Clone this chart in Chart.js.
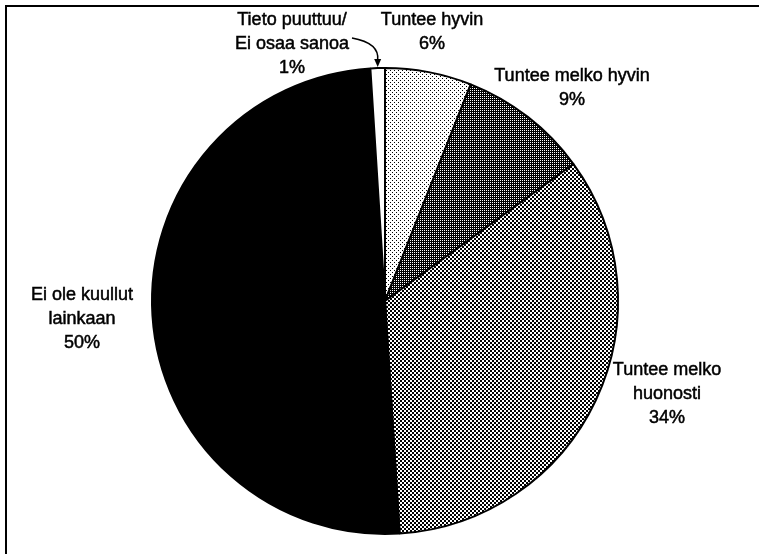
<!DOCTYPE html>
<html>
<head>
<meta charset="utf-8">
<script src="https://cdn.jsdelivr.net/npm/chart.js@4/dist/chart.umd.min.js"></script>
<style>
    html, body { margin: 0; padding: 0; background: #fff; }
    #wrap { position: relative; width: 759px; height: 554px; overflow: hidden; }
    #frame {
        position: absolute; left: 5px; top: 5px; width: 800px; height: 600px;
        border-top: 2px solid #000; border-left: 2px solid #000;
    }
    canvas { position: absolute; left: 0; top: 0; }
</style>
</head>
<body>
<div id="wrap">
    <div id="frame"></div>
    <canvas id="pie" width="759" height="554"></canvas>
</div>
<script>
/* ============================
   Data
   ============================ */
const categories = [
    ['Tuntee hyvin'],
    ['Tuntee melko hyvin'],
    ['Tuntee melko', 'huonosti'],
    ['Ei ole kuullut', 'lainkaan'],
    ['Tieto puuttuu/', 'Ei osaa sanoa']
];
const shares = [6, 9, 34, 50, 1];

// label anchors (center x, first line y) — layout only
const labelPos = [
    [432, 20],
    [572, 76],
    [667, 370],
    [82, 295],
    [292, 20]
];

/* ============================
   Halftone fills
   ============================ */
function tile(size, bg, fg, dots) {
    const c = document.createElement('canvas');
    c.width = size; c.height = size;
    const g = c.getContext('2d');
    g.fillStyle = bg;
    g.fillRect(0, 0, size, size);
    g.fillStyle = fg;
    dots.forEach(([x, y, w, h]) => g.fillRect(x, y, w || 1, h || 1));
    return g.createPattern(c, 'repeat');
}

const ctx = document.getElementById('pie').getContext('2d');
const fills = [
    tile(4, '#fff', '#000', [[0, 0], [2, 2]]),              // light dots
    tile(2, '#000', '#fff', [[0, 0]]),                      // dark
    tile(4, '#fff', '#000', [[0, 0, 2, 2], [2, 2, 2, 2]]),  // checker
    '#000',
    '#fff'
];

/* ============================
   Plugins
   ============================ */
const labelPlugin = {
    id: 'pieLabels',
    afterDraw(chart) {
        const c = chart.ctx;
        const meta = chart.getDatasetMeta(0);
        c.save();
        c.fillStyle = '#000';
        c.strokeStyle = '#000';
        c.lineWidth = 0.5;
        c.font = '18px "Liberation Sans", Arial, sans-serif';
        c.textAlign = 'center';
        c.textBaseline = 'middle';
        categories.forEach((lines, i) => {
            const [x, y] = labelPos[i];
            lines.concat([shares[i] + '%']).forEach((t, k) => {
                c.fillText(t, x, y + k * 24);
                c.strokeText(t, x, y + k * 24);
            });
        });

        // arrow to the smallest slice
        const arc = meta.data[4];
        const mid = (arc.startAngle + arc.endAngle) / 2;
        const tx = arc.x + Math.cos(mid) * arc.outerRadius;
        const ty = arc.y + Math.sin(mid) * arc.outerRadius - 1;
        c.lineWidth = 1.5;
        c.beginPath();
        c.moveTo(352, 38);
        c.quadraticCurveTo(tx + 2, 43, tx, ty - 7);
        c.stroke();
        c.beginPath();
        c.moveTo(tx - 3.5, ty - 8);
        c.lineTo(tx + 3.5, ty - 8);
        c.lineTo(tx, ty);
        c.closePath();
        c.fill();
        c.restore();
    }
};

new Chart(ctx, {
    type: 'pie',
    data: {
        labels: categories.map(l => l.join(' ')),
        datasets: [{
            data: shares,
            backgroundColor: fills,
            borderColor: '#000',
            borderWidth: 2
        }]
    },
    options: {
        responsive: false,
        animation: false,
        layout: { padding: { left: 151, right: 140, top: 67, bottom: 19 } },
        plugins: {
            legend: { display: false },
            tooltip: { enabled: false }
        }
    },
    plugins: [labelPlugin]
});
</script>
</body>
</html>
